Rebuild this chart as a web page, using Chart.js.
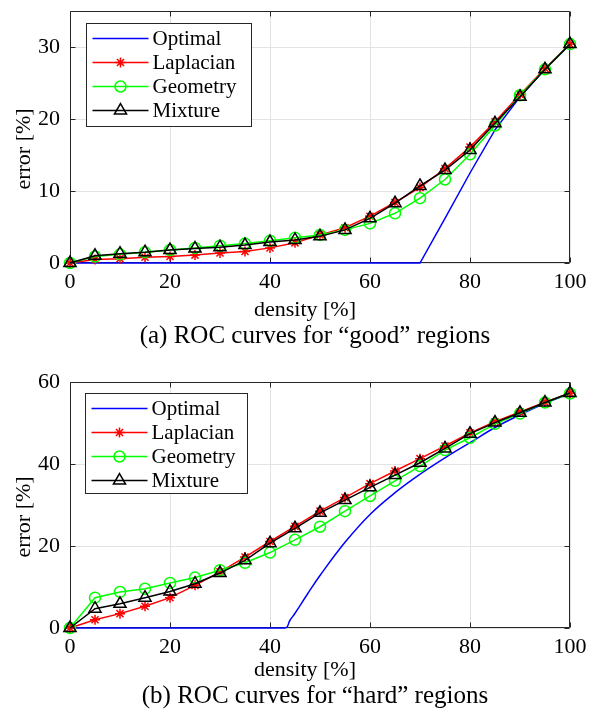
<!DOCTYPE html>
<html>
<head>
<meta charset="utf-8">
<script src="https://cdn.jsdelivr.net/npm/chart.js"></script>
<style>
  body { margin: 0; background: #fff; }
  #page { position: relative; width: 590px; height: 724px; overflow: hidden; }
  canvas { position: absolute; left: 0; }
  .caption { position: absolute; left: 40px; width: 550px; height: 28px; line-height: 28px;
    text-align: center; font: 25px "Liberation Serif", serif; color: #000; }
</style>
</head>
<body>
<div id="page">
  <canvas id="chartA" width="590" height="324" style="top:0"></canvas>
  <canvas id="chartB" width="590" height="329" style="top:360px"></canvas>
  <div class="caption" style="top:321px">(a) ROC curves for “good” regions</div>
  <div class="caption" style="top:681px">(b) ROC curves for “hard” regions</div>
</div>
<script>
'use strict';

// shared x positions of the marked curves
var density = [0,5,10,15,20,25,30,35,40,45,50,55,60,65,70,75,80,85,90,95,100];
var seriesNames = ['Optimal','Laplacian','Geometry','Mixture'];
var xTicks = [0,20,40,60,80,100];

// (a) good regions
var optimalA_x = [0,70,75,80,85,90,95,100];
var optimalA_y = [0,0,6.2,12.5,18.5,23.1,26.9,30.4];
var laplacianA = [0,0.5,0.6,0.8,0.9,1.1,1.4,1.6,2.1,2.8,3.9,4.9,6.5,8.4,10.5,13.1,16.1,19.6,23.4,27.0,30.4];
var geometryA = [0,0.9,1.2,1.5,1.8,2.1,2.4,2.7,3.1,3.5,3.9,4.6,5.5,6.9,9.0,11.6,15.1,19.1,23.3,26.9,30.4];
var mixtureA = [0,1.0,1.3,1.5,1.8,2.0,2.2,2.5,2.9,3.2,3.7,4.6,6.2,8.3,10.7,12.9,15.7,19.4,23.1,26.9,30.4];
var yTicksA = [0,10,20,30];

// (b) hard regions
var optimalB_x = [0,43,44,45,47.5,50,55,60,65,70,75,80,85,90,95,100];
var optimalB_y = [0,0,1.9,3.6,8.3,12.8,20.9,27.7,33.0,37.5,41.5,45.2,48.9,52.0,54.8,57.2];
var laplacianB = [0,2.0,3.5,5.3,7.4,10.4,13.7,17.3,21.1,24.8,28.5,31.8,35.2,38.3,41.3,44.4,47.6,50.3,52.7,55.1,57.3];
var geometryB = [0,7.4,8.8,9.6,11.0,12.3,14.1,15.9,18.4,21.5,24.7,28.5,32.2,35.9,39.5,43.4,46.4,49.8,52.3,55.0,57.2];
var mixtureB = [0,4.7,5.9,7.4,8.9,10.8,13.4,16.5,20.7,24.3,28.1,31.2,34.3,37.3,40.3,43.8,47.4,50.1,52.5,55.0,57.3];
var yTicksB = [0,20,40,60];

var AXIS = '#262626';
var SERIF = '"Liberation Serif", "Times New Roman", serif';
Chart.defaults.font.family = SERIF;

function pts(xs, ys) {
  return xs.map(function(x, i) { return {x: x, y: ys[i]}; });
}

// matlab style box with inward tick marks
var boxPlugin = {
  id: 'mbox',
  beforeDatasetsDraw: function(chart) {
    var ctx = chart.ctx, a = chart.chartArea;
    var xs = chart.scales.x, ys = chart.scales.y;
    var l = Math.round(a.left) + 0.5, r = Math.round(a.right) - 0.5;
    var t = Math.round(a.top) + 0.5, b = Math.round(a.bottom) - 0.5;
    ctx.save();
    ctx.strokeStyle = AXIS;
    ctx.lineWidth = 1;
    ctx.beginPath();
    ctx.rect(l, t, r - l, b - t);
    xs.ticks.forEach(function(tk) {
      var px = Math.round(xs.getPixelForValue(tk.value)) + 0.5;
      ctx.moveTo(px, b); ctx.lineTo(px, b - 5);
      ctx.moveTo(px, t); ctx.lineTo(px, t + 5);
    });
    ys.ticks.forEach(function(tk) {
      var py = Math.round(ys.getPixelForValue(tk.value)) + 0.5;
      ctx.moveTo(l, py); ctx.lineTo(l + 5, py);
      ctx.moveTo(r, py); ctx.lineTo(r - 5, py);
    });
    ctx.stroke();
    ctx.restore();
  }
};

// axis titles drawn by hand so the serif face is used
var titlePlugin = {
  id: 'axisTitles',
  afterDraw: function(chart, args, opts) {
    var ctx = chart.ctx, a = chart.chartArea;
    ctx.save();
    ctx.fillStyle = '#000';
    ctx.font = '22px ' + SERIF;
    ctx.textAlign = 'center';
    ctx.textBaseline = 'alphabetic';
    ctx.fillText(opts.xText, opts.xCenter, a.bottom + opts.xBase);
    ctx.translate(opts.yBase, (a.top + a.bottom) / 2 + opts.yShift);
    ctx.rotate(-Math.PI / 2);
    ctx.fillText(opts.yText, 0, 0);
    ctx.restore();
  }
};

function marker(ctx, style, x, y, rad) {
  ctx.beginPath();
  if (style === 'circle') {
    ctx.arc(x, y, rad, 0, Math.PI * 2);
  } else if (style === 'triangle') {
    for (var k = 0; k < 3; k++) {
      var ang = -Math.PI / 2 + k * 2 * Math.PI / 3;
      var px = x + Math.cos(ang) * rad, py = y + Math.sin(ang) * rad;
      if (k === 0) ctx.moveTo(px, py); else ctx.lineTo(px, py);
    }
    ctx.closePath();
  } else if (style === 'star') {
    for (var j = 0; j < 4; j++) {
      var an = j * Math.PI / 4;
      ctx.moveTo(x - Math.cos(an) * rad, y - Math.sin(an) * rad);
      ctx.lineTo(x + Math.cos(an) * rad, y + Math.sin(an) * rad);
    }
  }
  ctx.stroke();
}

// legend box inside the axes
var legendPlugin = {
  id: 'boxLegend',
  afterDraw: function(chart, args, opts) {
    var ctx = chart.ctx, a = chart.chartArea;
    var x0 = Math.round(a.left + opts.dx) + 0.5, y0 = Math.round(a.top + opts.dy) + 0.5;
    ctx.save();
    ctx.fillStyle = '#fff';
    ctx.fillRect(x0, y0, opts.w, opts.h);
    ctx.strokeStyle = AXIS;
    ctx.lineWidth = 1;
    ctx.strokeRect(x0, y0, opts.w, opts.h);
    chart.data.datasets.forEach(function(ds, i) {
      var cy = y0 + 15 + i * 24;
      ctx.strokeStyle = ds.borderColor;
      ctx.lineWidth = ds.borderWidth;
      ctx.beginPath();
      ctx.moveTo(x0 + 6, cy);
      ctx.lineTo(x0 + 62, cy);
      ctx.stroke();
      if (ds.pointRadius > 0) {
        ctx.lineWidth = ds.pointBorderWidth;
        marker(ctx, ds.pointStyle, x0 + 34, cy, ds.pointRadius);
      }
      ctx.fillStyle = '#000';
      ctx.font = '21px ' + SERIF;
      ctx.textBaseline = 'middle';
      ctx.textAlign = 'left';
      ctx.fillText(ds.label, x0 + 66, cy + 1);
    });
    ctx.restore();
  }
};

function makeChart(id, curves, yMax, yStep, padTop, optTension, legendBox, titles) {
  var datasets = [
    { label: seriesNames[0], data: curves[0], borderColor: '#0000ff', borderWidth: 1.5,
      pointRadius: 0, order: 4 },
    { label: seriesNames[1], data: curves[1], borderColor: '#ff0000', borderWidth: 1.5,
      pointStyle: 'star', pointRadius: 5, pointBorderWidth: 1.5, pointBorderColor: '#ff0000',
      pointBackgroundColor: 'rgba(0,0,0,0)', order: 3 },
    { label: seriesNames[2], data: curves[2], borderColor: '#00ff00', borderWidth: 1.5,
      pointStyle: 'circle', pointRadius: 5.5, pointBorderWidth: 1.5, pointBorderColor: '#00ff00',
      pointBackgroundColor: 'rgba(0,0,0,0)', order: 2 },
    { label: seriesNames[3], data: curves[3], borderColor: '#000000', borderWidth: 1.5,
      pointStyle: 'triangle', pointRadius: 7, pointBorderWidth: 1.5, pointBorderColor: '#000000',
      pointBackgroundColor: 'rgba(0,0,0,0)', order: 1 }
  ];
  datasets.forEach(function(d) { d.clip = false; d.fill = false; d.tension = 0; });
  datasets[0].tension = optTension;

  return new Chart(document.getElementById(id).getContext('2d'), {
    type: 'line',
    data: { datasets: datasets },
    plugins: [boxPlugin, titlePlugin, legendPlugin],
    options: {
      responsive: false,
      animation: false,
      events: [],
      layout: { padding: { top: padTop, right: 20, left: 0, bottom: 0 } },
      plugins: { legend: { display: false }, tooltip: { enabled: false },
        boxLegend: legendBox, axisTitles: titles },
      scales: {
        x: {
          type: 'linear', min: 0, max: 100,
          afterBuildTicks: function(s) { s.ticks = xTicks.map(function(v) { return {value: v}; }); },
          afterFit: function(s) { s.height = 61; s.paddingLeft = 0; s.paddingRight = 0; },
          ticks: { padding: 6, color: '#000', font: { family: SERIF, size: 22 } },
          grid: { color: '#e3e3e3', drawTicks: false },
          border: { display: false }
        },
        y: {
          min: 0, max: yMax,
          ticks: { stepSize: yStep, includeBounds: false, padding: 10, color: '#000',
            font: { family: SERIF, size: 22 } },
          afterFit: function(s) { s.width = 70; s.paddingTop = 0; s.paddingBottom = 0; },
          grid: { color: '#e3e3e3', drawTicks: false },
          border: { display: false }
        }
      }
    }
  });
}

makeChart('chartA', [pts(optimalA_x, optimalA_y), pts(density, laplacianA), pts(density, geometryA), pts(density, mixtureA)],
  35, yTicksA[1] - yTicksA[0], 11, 0, { dx: 16, dy: 12, w: 165, h: 103 },
  { xText: 'density [%]', yText: 'error [%]', xCenter: 305, xBase: 53, yBase: 30, yShift: 12 });
makeChart('chartB', [pts(optimalB_x, optimalB_y), pts(density, laplacianB), pts(density, geometryB), pts(density, mixtureB)],
  60, yTicksB[1] - yTicksB[0], 22, 0.4, { dx: 15, dy: 11, w: 162, h: 100 },
  { xText: 'density [%]', yText: 'error [%]', xCenter: 305, xBase: 48, yBase: 30, yShift: 12 });
</script>
</body>
</html>
